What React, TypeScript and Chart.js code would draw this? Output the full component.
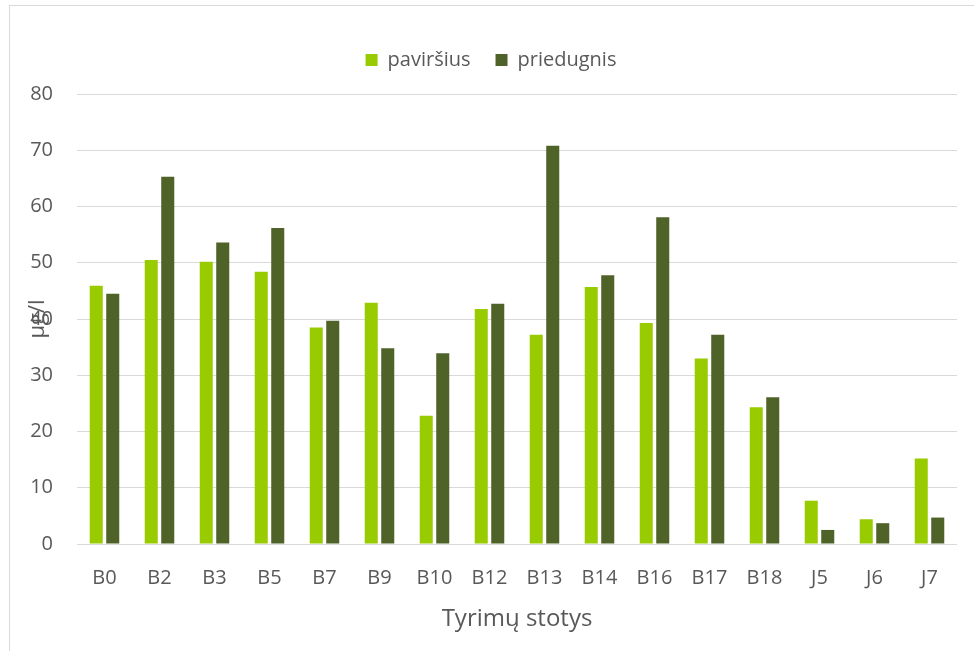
import React, { useEffect, useRef } from "react";
import { Chart, registerables } from "chart.js";

Chart.register(...registerables);

const categories = ["B0", "B2", "B3", "B5", "B7", "B9", "B10", "B12", "B13", "B14", "B16", "B17", "B18", "J5", "J6", "J7"];
const pavirsius = [45.9, 50.5, 50.2, 48.4, 38.5, 42.9, 22.8, 41.8, 37.2, 45.7, 39.3, 33.0, 24.3, 7.7, 4.4, 15.2];
const priedugnis = [44.5, 65.3, 53.6, 56.2, 39.7, 34.8, 33.9, 42.7, 70.8, 47.8, 58.1, 37.2, 26.1, 2.5, 3.7, 4.7];
const seriesNames = ["paviršius", "priedugnis"];
const yTicksMax = 80;
const yTickStep = 10;
const xTitle = "Tyrimų stotys";
const yTitle = "μg/l";

const FONT = "'Open Sans', 'Segoe UI', sans-serif";
const TEXT = "#595959";
const GRID = "#d9d9d9";

export default function App() {
  const ref = useRef<HTMLCanvasElement | null>(null);

  useEffect(() => {
    if (!ref.current) return;
    const legendFix = {
      id: "legendFix",
      afterInit(chart: any) {
        const lg = chart.legend;
        if (!lg) return;
        const orig = lg.fit;
        lg.fit = function () {
          orig.call(this);
          this.height = 69;
        };
      },
    };
    const chart = new Chart(ref.current, {
      type: "bar",
      data: {
        labels: categories,
        datasets: [
          {
            label: seriesNames[0],
            data: pavirsius,
            backgroundColor: "#99cc00",
            categoryPercentage: 0.6,
            barPercentage: 0.79,
          },
          {
            label: seriesNames[1],
            data: priedugnis,
            backgroundColor: "#4f6228",
            categoryPercentage: 0.6,
            barPercentage: 0.79,
          },
        ],
      },
      options: {
        responsive: false,
        animation: false,
        layout: { padding: { left: 25, right: 17, top: 25, bottom: 17 } },
        plugins: {
          tooltip: { enabled: false },
          legend: {
            position: "top",
            labels: {
              boxWidth: 12,
              boxHeight: 12,
              padding: 25,
              color: TEXT,
              font: { family: FONT, size: 20 },
            },
          },
        },
        scales: {
          x: {
            grid: { display: false, drawTicks: false },
            border: { display: false },
            ticks: { color: TEXT, font: { family: FONT, size: 20 }, padding: 22, maxRotation: 0 },
            title: {
              display: true,
              text: xTitle,
              color: TEXT,
              font: { family: FONT, size: 24 },
              padding: { top: 0, bottom: 0 },
            },
            afterFit(scale: any) {
              scale.height = 90;
            },
          },
          y: {
            min: 0,
            max: yTicksMax,
            grid: { color: GRID, lineWidth: 1, drawTicks: false },
            border: { display: false },
            ticks: { stepSize: yTickStep, color: TEXT, font: { family: FONT, size: 20 }, padding: 24 },
            title: {
              display: true,
              text: yTitle,
              color: TEXT,
              font: { family: FONT, size: 22 },
              padding: { top: 0, bottom: 0 },
            },
            afterFit(scale: any) {
              scale.width = 52;
            },
          },
        },
      },
      plugins: [legendFix],
    });
    return () => chart.destroy();
  }, []);

  return (
    <div style={{ position: "absolute", left: 0, top: 0, width: 974, height: 651, background: "#fff", overflow: "hidden" }}>
      <div
        style={{
          position: "absolute",
          left: 9,
          top: 5,
          width: 974,
          height: 651,
          borderTop: "1px solid #d9d9d9",
          borderLeft: "1px solid #d9d9d9",
        }}
      />
      <canvas ref={ref} width={974} height={651} style={{ position: "absolute", left: 0, top: 0, display: "block" }} />
    </div>
  );
}
